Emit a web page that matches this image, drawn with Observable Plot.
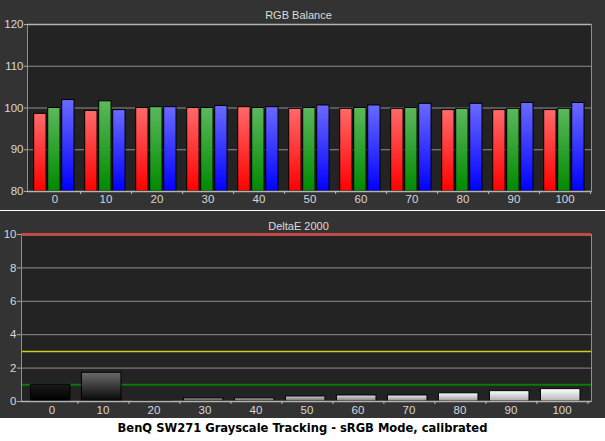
<!DOCTYPE html>
<html>
<head>
<meta charset="utf-8">
<script src="https://cdn.jsdelivr.net/npm/d3@7"></script>
<script src="https://cdn.jsdelivr.net/npm/@observablehq/plot@0.6"></script>
<style>
  body { margin: 0; background: #fff; width: 605px; }
  #rgb, #delta { background: #333; line-height: 0; }
  #rgb svg, #delta svg { display: block; }
  #rgb { border-bottom: 1px solid #fff; }
  #caption {
    height: 23px; line-height: 23px; padding-top: 2px; text-align: center;
    font: bold 12.8px "DejaVu Sans Condensed", "DejaVu Sans", sans-serif;
    font-stretch: condensed; color: #000;
  }
</style>
</head>
<body>
<div id="rgb"></div>
<div id="delta"></div>
<div id="caption">BenQ SW271 Grayscale Tracking - sRGB Mode, calibrated</div>
<script>
// stimulus levels (% gray)
const levels = [0, 10, 20, 30, 40, 50, 60, 70, 80, 90, 100];

// RGB balance
const red   = [98.6, 99.3, 100.0, 100.0, 100.2, 99.8, 99.8, 99.8, 99.5, 99.5, 99.5];
const green = [100.0, 101.6, 100.2, 100.0, 100.0, 100.0, 100.0, 100.0, 99.8, 99.8, 99.8];
const blue  = [101.9, 99.5, 100.2, 100.5, 100.2, 100.6, 100.6, 101.0, 101.0, 101.2, 101.2];
const rgbTicks = [80, 90, 100, 110, 120];

// DeltaE 2000 per level
const deltaE = [1.0, 1.72, 0.02, 0.19, 0.19, 0.30, 0.36, 0.36, 0.49, 0.62, 0.74];
const deTicks = [0, 2, 4, 6, 8, 10];
const thresholds = [10, 3, 1];

const W = 605;
const font = "'Liberation Sans', Arial, sans-serif";

const rgb = levels.flatMap((level, i) => [
  {level, channel: "R", value: red[i]},
  {level, channel: "G", value: green[i]},
  {level, channel: "B", value: blue[i]}
]);
const de = levels.map((level, i) => ({level, value: deltaE[i]}));

// gradient defs
function defs(stops) {
  return () => {
    const d = d3.create("svg:defs");
    stops.forEach(([id, c0, c1]) => {
      const g = d.append("linearGradient").attr("id", id)
        .attr("x1", 0).attr("y1", 0).attr("x2", 0).attr("y2", 1);
      g.append("stop").attr("offset", "0%").attr("stop-color", c0);
      g.append("stop").attr("offset", "100%").attr("stop-color", c1);
    });
    return d.node();
  };
}

const grayOf = (level) => Math.round(255 * Math.pow(level / 100, 0.5));
const grayHex = (v) => { v = Math.max(0, Math.min(255, v)); return d3.rgb(v, v, v).formatHex(); };
const grayStops = levels.map(l => ["gray" + l, grayHex(grayOf(l) + 25), grayHex(grayOf(l) - 75)]);

// ---------- RGB Balance ----------
const ml1 = 27, mr1 = 14;
const step1 = (W - ml1 - mr1) / levels.length;
const barW = 12.6, barGap = 1.4, barPad = 4.7;

function channelBars(ch, idx) {
  const left = barPad + idx * (barW + barGap);
  return Plot.barY(rgb.filter(d => d.channel === ch), {
    x: "level", y1: rgbTicks[0], y2: "value",
    fill: `url(#grad${ch})`, stroke: "#000", strokeWidth: 1,
    insetLeft: left, insetRight: step1 - left - barW
  });
}

const chart1 = Plot.plot({
  width: W, height: 210,
  marginLeft: ml1, marginRight: mr1, marginTop: 24, marginBottom: 19,
  style: {background: "#333", color: "#d8d8d8", fontFamily: font, fontSize: "11.5px"},
  x: {type: "band", domain: levels, padding: 0, axis: null},
  y: {domain: [80, 120], axis: null},
  marks: [
    defs([["gradR", "#ff6a6a", "#ff0000"], ["gradG", "#5cb85c", "#008a00"], ["gradB", "#6a6aff", "#0000ff"]]),
    Plot.frame({fill: "#232323"}),
    Plot.gridY({ticks: rgbTicks.slice(1, -1), stroke: "#8f8f8f", strokeOpacity: 1}),
    channelBars("R", 0), channelBars("G", 1), channelBars("B", 2),
    Plot.frame({stroke: "#8f8f8f"}),
    Plot.ruleY([80, 120], {stroke: "#b4b4b4", strokeWidth: 1.5}),
    Plot.axisY({ticks: rgbTicks, tickSize: 3, tickPadding: 1, stroke: "#aaa", label: null}),
    Plot.axisX({tickSize: 0, tickPadding: 3, label: null}),
    Plot.axisX({tickSize: 3, tickFormat: () => "", dx: step1 / 2, stroke: "#bbb", label: null}),
    Plot.text(["RGB Balance"], {frameAnchor: "top", lineAnchor: "middle", dy: -9, dx: -11, fill: "#ddd", fontSize: 11})
  ]
});
d3.select("#rgb").append(() => chart1);

// ---------- DeltaE 2000 ----------
const ml2 = 21, mr2 = 14;
const step2 = (W - ml2 - mr2) / levels.length;
const grayPad = 4.4, grayW = 40.4;

const chart2 = Plot.plot({
  width: W, height: 207,
  marginLeft: ml2, marginRight: mr2, marginTop: 23, marginBottom: 17,
  style: {background: "#333", color: "#d8d8d8", fontFamily: font, fontSize: "11.5px"},
  x: {type: "band", domain: levels, padding: 0, axis: null},
  y: {domain: [0, 10], axis: null},
  color: {type: "identity"},
  marks: [
    defs(grayStops),
    Plot.frame({fill: "#232323"}),
    Plot.gridY({ticks: deTicks.slice(1, -1), stroke: "#8f8f8f", strokeOpacity: 1}),
    Plot.ruleY([thresholds[2]], {stroke: "#0b7a0b", strokeWidth: 2}),
    Plot.ruleY([thresholds[1]], {stroke: "#cccc22", strokeWidth: 1.5}),
    Plot.barY(de, {
      x: "level", y: "value", fill: d => `url(#gray${d.level})`,
      stroke: "#000", strokeWidth: 1,
      insetLeft: grayPad, insetRight: step2 - grayPad - grayW
    }),
    Plot.frame({stroke: "#8f8f8f"}),
    Plot.ruleY([0], {stroke: "#b4b4b4", strokeWidth: 1.5}),
    Plot.ruleY([thresholds[0]], {stroke: "#c04a4a", strokeWidth: 3}),
    Plot.axisY({ticks: deTicks, tickSize: 4, tickPadding: 1, stroke: "#aaa", label: null}),
    Plot.axisX({tickSize: 0, tickPadding: 4, label: null}),
    Plot.axisX({tickSize: 3, tickFormat: () => "", dx: step2 / 2, stroke: "#bbb", label: null}),
    Plot.text(["DeltaE 2000"], {frameAnchor: "top", lineAnchor: "middle", dy: -8, dx: -8, fill: "#ddd", fontSize: 11})
  ]
});
d3.select("#delta").append(() => chart2);
</script>
</body>
</html>
